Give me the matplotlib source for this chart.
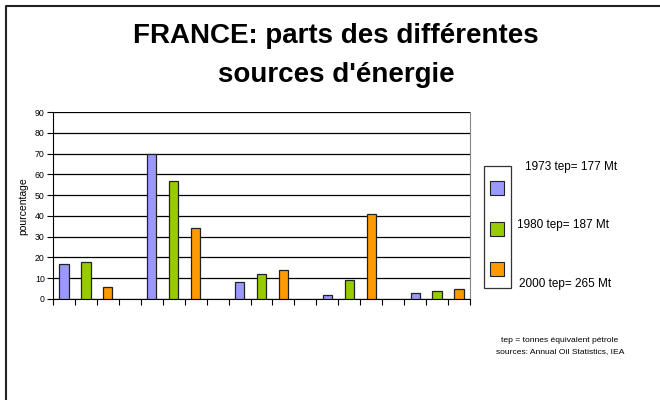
import matplotlib
matplotlib.use("Agg")
import matplotlib.pyplot as plt
from matplotlib.patches import Rectangle
from matplotlib.lines import Line2D

plt.rcParams['font.family'] = ['Liberation Sans', 'DejaVu Sans']

# Data (percentage share of each energy source, 5 sources)
years = ["1973 tep= 177 Mt", "1980 tep= 187 Mt", "2000 tep= 265 Mt"]
v1973 = [17, 70, 8, 2, 3]
v1980 = [18, 57, 12, 9, 4]
v2000 = [6, 34, 14, 41, 5]
colors = ["#9999FF", "#99CC00", "#FF9900"]
yticks = list(range(0, 100, 10))
title = "FRANCE: parts des différentes\nsources d'énergie"
ylabel = "pourcentage"
footnote = "tep = tonnes équivalent pétrole\nsources: Annual Oil Statistics, IEA"

W, H = 660, 400
fig = plt.figure(figsize=(6.6, 4.0), dpi=100)

def fx(px):
    return px / W

def fy(py):
    return 1 - py / H

ax = fig.add_axes([fx(53), fy(299), fx(470) - fx(53), fy(112) - fy(299)])

series = [v1973, v1980, v2000]
n_src = len(v1973)
for si, vals in enumerate(series):
    xs = [g * 4 + si for g in range(n_src)]
    ax.bar(xs, vals, width=0.42, color=colors[si], edgecolor="#222222",
           linewidth=0.9, zorder=3)

nslots = n_src * 4 - 1
ax.set_xlim(-0.5, nslots - 0.5)
ax.set_ylim(0, 90)
ax.set_yticks(yticks)
ax.set_xticks([i - 0.5 for i in range(nslots + 1)])
ax.set_xticklabels([])
ax.tick_params(axis='x', length=4, width=0.8, direction='out', color='black')
ax.tick_params(axis='y', length=4, width=0.8, direction='out', labelsize=6.3, pad=2)
ax.yaxis.grid(True, color='black', linewidth=0.9, zorder=0)
ax.set_axisbelow(True)
ax.spines['top'].set_visible(False)
ax.spines['right'].set_color('#888888')
ax.spines['left'].set_color('black')
ax.spines['bottom'].set_color('black')
ax.set_ylabel(ylabel, fontsize=7.5)
ax.yaxis.set_label_coords(fx(23) - fx(53), 0.0, transform=fig.transFigure)
ax.yaxis.label.set_position((fx(23), fy(206)))
ax.yaxis.label.set_verticalalignment('center')

# Title
tl = title.split("\n")
fig.text(fx(336), fy(43), tl[0], ha='center', va='baseline',
         fontsize=20, fontweight='bold')
fig.text(fx(336), fy(82), tl[1], ha='center', va='baseline',
         fontsize=20, fontweight='bold')

# Legend box
fig.add_artist(Rectangle((fx(484), fy(288)), fx(511) - fx(484), fy(166) - fy(288),
                         transform=fig.transFigure, fill=False,
                         edgecolor='#333333', linewidth=0.9))
sq_y = [188, 229, 269]
lab_pos = [(525, 167), (517, 225), (519, 284)]
for i in range(3):
    fig.add_artist(Rectangle((fx(490), fy(sq_y[i] + 7)), fx(14), 14 / H,
                             transform=fig.transFigure, facecolor=colors[i],
                             edgecolor='#222222', linewidth=0.8))
    fig.text(fx(lab_pos[i][0]), fy(lab_pos[i][1]), years[i], ha='left', va='center',
             fontsize=8.5)

# Footnote
fl = footnote.split("\n")
fig.text(fx(560), fy(340), fl[0], ha='center', va='center', fontsize=6.1)
fig.text(fx(560), fy(352), fl[1], ha='center', va='center', fontsize=6.1)

# Outer frame (left and top edges)
fig.add_artist(Line2D([fx(6), fx(6), fx(660)], [0, fy(6), fy(6)],
                      transform=fig.transFigure, color='#222222', linewidth=1.5))

fig.savefig("out.png", dpi=100)
